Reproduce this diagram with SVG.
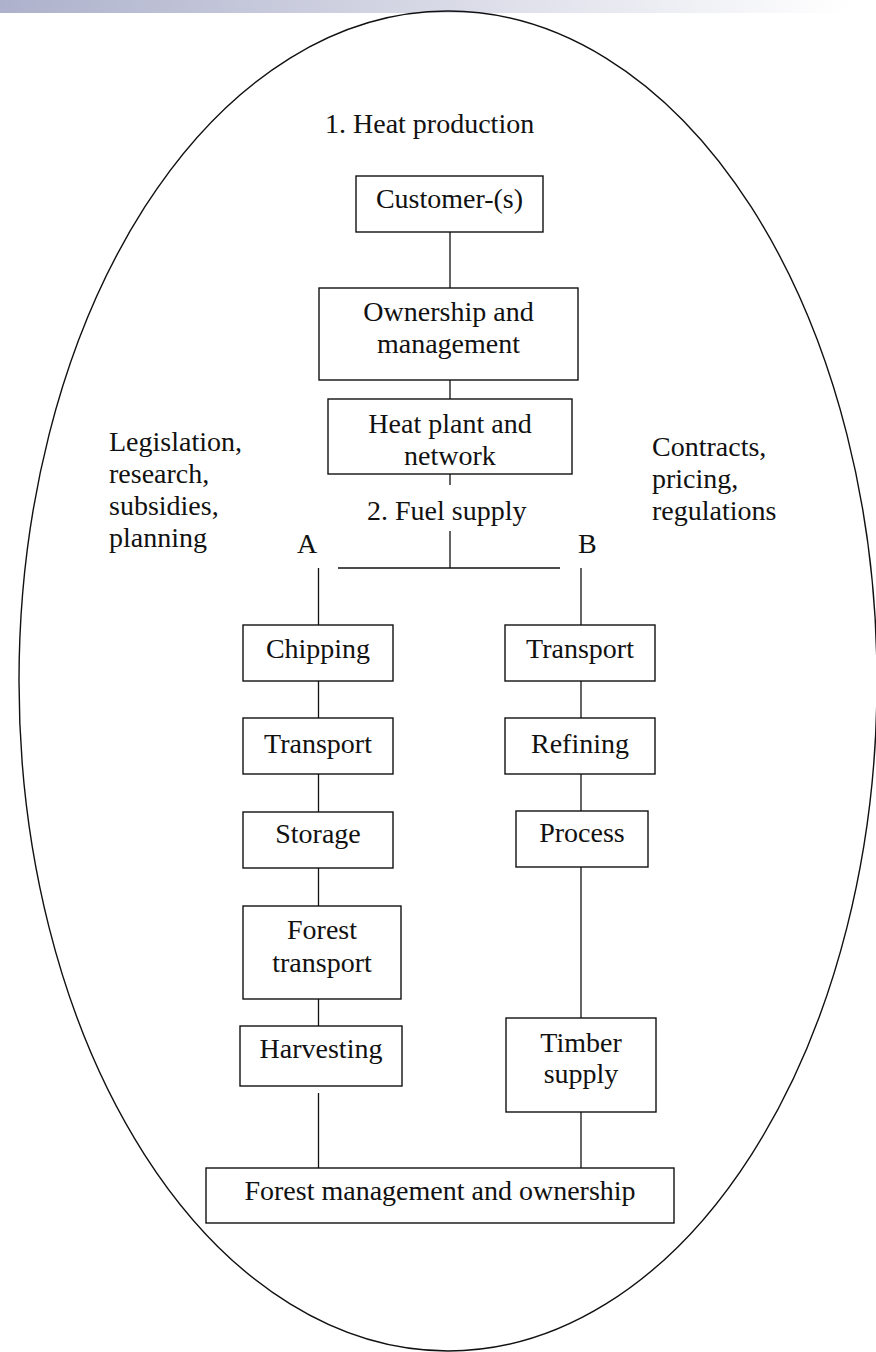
<svg xmlns="http://www.w3.org/2000/svg" width="876" height="1352" viewBox="0 0 876 1352">
<defs>
<linearGradient id="bar" x1="0" y1="0" x2="1" y2="0">
<stop offset="0" stop-color="#adb1cb"/>
<stop offset="0.97" stop-color="#ffffff"/>
</linearGradient>
</defs>
<style>
text{font-family:"Liberation Serif","Times New Roman",serif;font-size:28px;fill:#111}
.c{text-anchor:middle}
.box{fill:#fff;stroke:#111;stroke-width:1.4}
.ln{stroke:#111;stroke-width:1.3;fill:none}
</style>
<rect x="0" y="0" width="876" height="13" fill="url(#bar)"/>
<ellipse cx="448" cy="681" rx="429" ry="670" fill="none" stroke="#111" stroke-width="1.4"/>
<text x="325" y="133">1. Heat production</text>
<text x="367" y="520">2. Fuel supply</text>
<text x="297" y="553">A</text>
<text x="578" y="553">B</text>
<g id="left-notes">
<text x="109" y="451">Legislation,</text>
<text x="109" y="483">research,</text>
<text x="109" y="515">subsidies,</text>
<text x="109" y="547">planning</text>
</g>
<g id="right-notes">
<text x="652" y="456">Contracts,</text>
<text x="652" y="488">pricing,</text>
<text x="652" y="520">regulations</text>
</g>
<g id="connectors" class="ln">
<line x1="450" y1="232" x2="450" y2="288"/>
<line x1="450" y1="380" x2="450" y2="399"/>
<line x1="450" y1="474" x2="450" y2="485"/>
<line x1="450" y1="531" x2="450" y2="568"/>
<line x1="338" y1="568" x2="560" y2="568"/>
<line x1="318.5" y1="568" x2="318.5" y2="625"/>
<line x1="581" y1="568" x2="581" y2="625"/>
<line x1="318.5" y1="681" x2="318.5" y2="718"/>
<line x1="318.5" y1="774" x2="318.5" y2="812"/>
<line x1="318.5" y1="868" x2="318.5" y2="906"/>
<line x1="318.5" y1="999" x2="318.5" y2="1026"/>
<line x1="318.5" y1="1093" x2="318.5" y2="1168"/>
<line x1="581" y1="681" x2="581" y2="718"/>
<line x1="581" y1="774" x2="581" y2="811"/>
<line x1="581" y1="867" x2="581" y2="1018"/>
<line x1="581" y1="1112" x2="581" y2="1168"/>
</g>
<g id="customer"><rect class="box" x="356" y="176" width="187" height="56"/><text class="c" x="449.5" y="208">Customer-(s)</text></g>
<g id="ownership"><rect class="box" x="319" y="288" width="259" height="92"/><text class="c" x="448.5" y="321">Ownership and</text><text class="c" x="448.5" y="353">management</text></g>
<g id="heatplant"><rect class="box" x="328" y="399" width="244" height="75"/><text class="c" x="450" y="433">Heat plant and</text><text class="c" x="450" y="465">network</text></g>
<g id="chipping"><rect class="box" x="243" y="625" width="150" height="56"/><text class="c" x="318" y="658">Chipping</text></g>
<g id="transportA"><rect class="box" x="243" y="718" width="150" height="56"/><text class="c" x="318" y="753">Transport</text></g>
<g id="storage"><rect class="box" x="243" y="812" width="150" height="56"/><text class="c" x="318" y="843">Storage</text></g>
<g id="foresttransport"><rect class="box" x="243" y="906" width="158" height="93"/><text class="c" x="322" y="939">Forest</text><text class="c" x="322" y="972">transport</text></g>
<g id="harvesting"><rect class="box" x="240" y="1026" width="162" height="60"/><text class="c" x="321" y="1058">Harvesting</text></g>
<g id="transportB"><rect class="box" x="505" y="625" width="150" height="56"/><text class="c" x="580" y="658">Transport</text></g>
<g id="refining"><rect class="box" x="505" y="718" width="150" height="56"/><text class="c" x="580" y="753">Refining</text></g>
<g id="process"><rect class="box" x="516" y="811" width="132" height="56"/><text class="c" x="582" y="842">Process</text></g>
<g id="timber"><rect class="box" x="506" y="1018" width="150" height="94"/><text class="c" x="581" y="1052">Timber</text><text class="c" x="581" y="1083">supply</text></g>
<g id="forestmgmt"><rect class="box" x="206" y="1168" width="468" height="55"/><text class="c" x="440" y="1200">Forest management and ownership</text></g>
</svg>
